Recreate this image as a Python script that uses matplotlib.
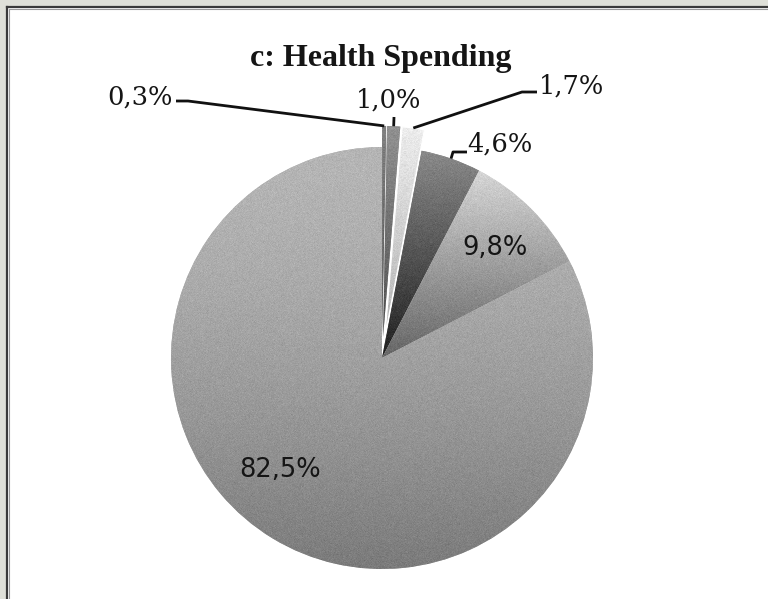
import matplotlib.pyplot as plt
import numpy as np
from matplotlib.patches import Rectangle, PathPatch
from matplotlib.lines import Line2D

# health spending shares (%), clockwise from 12 o'clock
udzialy = [0.3, 1.0, 1.7, 4.6, 9.8, 82.5]
tytul = 'c: Health Spending'

# pulled-out slices (fraction of radius)
wysuniecie = [0.1, 0.1, 0.1, 0, 0, 0]
# grey gradient per slice: top shade, bottom shade, curve
jasny = [0.50, 0.57, 0.93, 0.54, 0.84, 0.71]
ciemny = [0.32, 0.31, 0.70, 0.12, 0.40, 0.48]
krzywa = [1.0, 1.0, 1.0, 1.0, 1.0, 1.5]

W, H = 768, 599
R = 211
fig = plt.figure(figsize=(W / 100, H / 100), dpi=100)
ax = fig.add_axes([0, 0, 1, 1])
ax.set_xlim(0, W)
ax.set_ylim(0, H)

# explode in pie() is in data units, so scale by the radius
wedges, _ = ax.pie(udzialy, startangle=90, counterclock=False,
                   explode=[e * R for e in wysuniecie],
                   radius=R, center=(382, H - 358), frame=True,
                   colors=[(c, c, c) for c in jasny],
                   wedgeprops=dict(linewidth=0))

# gradient fill with a bit of grain, clipped to each wedge
rng = np.random.default_rng(3)
for w, g0, g1, k in zip(wedges, jasny, ciemny, krzywa):
    bb = w.get_path().get_extents()
    nx, ny = max(int(bb.width), 2), max(int(bb.height), 2)
    t = np.linspace(0, 1, ny)[:, None] ** k * np.ones((1, nx))
    g = g0 + (g1 - g0) * t + rng.normal(0, 0.018, (ny, nx))
    img = np.clip(np.dstack([g, g, g]), 0, 1)
    im = ax.imshow(img, extent=(bb.x0, bb.x1, bb.y0, bb.y1), origin='upper',
                   interpolation='nearest', zorder=2)
    im.set_clip_path(w)

# thin white rim on the light pulled-out slice
ax.add_patch(PathPatch(wedges[2].get_path(), fill=False, edgecolor='white',
                       lw=0.9, zorder=3))

ax.set_xlim(0, W)
ax.set_ylim(0, H)
ax.set_aspect('auto')
ax.axis('off')

etykiety = [f'{v:.1f}%'.replace('.', ',') for v in udzialy]


def punkt(w):
    # outer edge of a wedge at its middle angle
    kat = np.deg2rad((w.theta1 + w.theta2) / 2)
    return w.center[0] + w.r * np.cos(kat), w.center[1] + w.r * np.sin(kat)


# outside labels (serif) with leader lines
poz_zew = {0: (140, 105), 1: (389, 108), 2: (571, 94), 3: (500, 152)}
lamane = {0: [(188, 101), (176, 101)],
          1: [(394, 117)],
          2: [(522, 92), (537, 92)],
          3: [(453, 152), (467, 152)]}
for i, (x, y) in poz_zew.items():
    ax.text(x, H - y, etykiety[i], ha='center', va='baseline', fontsize=18.5,
            family='DejaVu Serif', color='#151515', zorder=5)
    px, py = punkt(wedges[i])
    xs = [px] + [p[0] for p in lamane[i]]
    ys = [py] + [H - p[1] for p in lamane[i]]
    ax.plot(xs, ys, color='#111111', lw=2, solid_capstyle='butt', zorder=4)

# inside labels (sans)
for i, (x, y) in {4: (495, 255), 5: (280, 477)}.items():
    ax.text(x, H - y, etykiety[i], ha='center', va='baseline', fontsize=18.5,
            family='DejaVu Sans', color='#151515', zorder=5)

ax.text(381, H - 66, tytul, ha='center', va='baseline', fontsize=23,
        family='Liberation Serif', fontweight='bold', color='#151515', zorder=5)

# frame along the top and left edge
ax.add_patch(Rectangle((0, H - 6), W, 6, color='#dfe0d8', lw=0, zorder=6))
ax.add_patch(Rectangle((0, 0), 6, H, color='#dfe0d8', lw=0, zorder=6))
ax.add_line(Line2D([7, W], [H - 7, H - 7], color='#3a3a3a', lw=1.6, zorder=7))
ax.add_line(Line2D([7, 7], [0, H - 7], color='#3a3a3a', lw=1.6, zorder=7))
ax.add_line(Line2D([8.5, W], [H - 8.5, H - 8.5], color='#9a9a9a', lw=0.8, zorder=7))
ax.add_line(Line2D([8.5, 8.5], [0, H - 8.5], color='#9a9a9a', lw=0.8, zorder=7))

fig.savefig('out.png', dpi=100)
